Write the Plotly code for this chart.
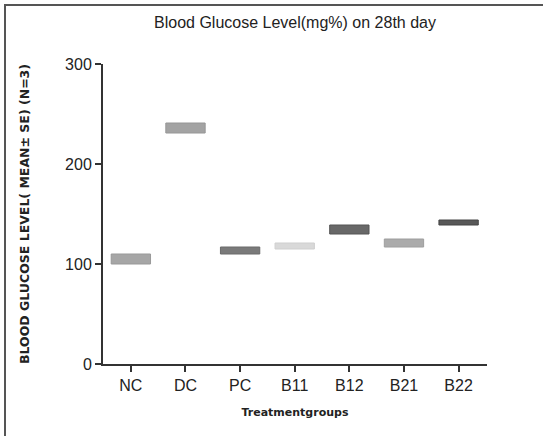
import plotly.graph_objects as go

groups = ["NC", "DC", "PC", "B11", "B12", "B21", "B22"]
low_vals = [100, 231, 110, 115, 130, 117, 139]
high_vals = [110, 241, 117, 121, 139, 125, 144]
fill_colors = ["#a6a6a6", "#a3a3a3", "#7a7a7a", "#d9d9d9", "#686868", "#ababab", "#585858"]
edge_colors = ["#999999", "#969696", "#6a6a6a", "#cfcfcf", "#555555", "#9e9e9e", "#444444"]
y_ticks = [0, 100, 200, 300]

heights = [h - l for h, l in zip(high_vals, low_vals)]

fig = go.Figure()
fig.add_trace(go.Bar(
    x=groups, y=heights, base=low_vals, width=0.72,
    marker=dict(color=fill_colors, line=dict(color=edge_colors, width=1)),
    showlegend=False, hoverinfo="skip",
))

font_family = "Liberation Sans, Arial, sans-serif"
small_font = "DejaVu Sans, sans-serif"

PX_LEFT, PX_BOTTOM, PX_W, PX_H = 103, 364, 384, 300


def px_x(p):
    return (p - PX_LEFT) / PX_W


def px_y(p):
    return (PX_BOTTOM - p) / PX_H


fig.update_layout(
    width=543, height=436,
    margin=dict(l=103, r=56, t=64, b=72),
    paper_bgcolor="white", plot_bgcolor="white",
    font=dict(family=font_family, color="#222222"),
    title=dict(text="Blood Glucose Level(mg%) on 28th day", x=0.5, xref="paper",
               xanchor="center", y=1 - 22 / 436, yref="container", yanchor="middle",
               font=dict(size=16, color="#222222")),
    xaxis=dict(range=[-0.51, 6.52], showline=True, linecolor="#333333", linewidth=2,
               ticks="outside", ticklen=6, tickwidth=2, tickcolor="#333333",
               tickfont=dict(size=16), showgrid=False, zeroline=False,
               title=dict(text="<b>Treatmentgroups</b>", font=dict(size=11, family=small_font), standoff=15)),
    yaxis=dict(range=[0, 300], tickvals=y_ticks, showline=True, linecolor="#333333", linewidth=2,
               ticks="outside", ticklen=6, tickwidth=2, tickcolor="#333333",
               tickfont=dict(size=16), showgrid=False, zeroline=False,
               title=dict(text="<b>BLOOD GLUCOSE LEVEL( MEAN± SE) (N=3)</b>",
                          font=dict(size=12.5, family=small_font), standoff=33)),
    shapes=[
        dict(type="rect", xref="paper", yref="paper", layer="above",
             x0=px_x(5), x1=px_x(560), y0=px_y(5), y1=px_y(460),
             line=dict(color="#555555", width=2), fillcolor="rgba(0,0,0,0)"),
    ],
)

fig.write_html("out.html", config={"displayModeBar": False},
               post_script="document.body.style.margin='0';")
